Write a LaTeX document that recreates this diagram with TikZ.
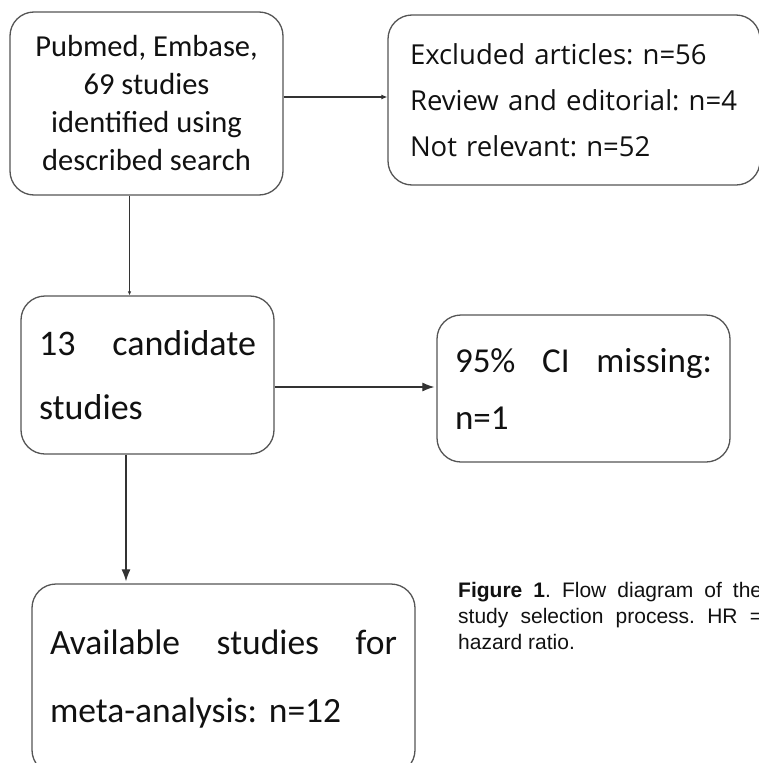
\documentclass[tikz,border=0pt]{standalone}
\usepackage{fontspec}
\usetikzlibrary{arrows.meta,calc}
\newfontfamily\boxfont{Carlito}
\newfontfamily\exclfont{Open Sans}
\newfontfamily\capfont{Liberation Sans}
\setlength{\parindent}{0pt}
\frenchspacing
\definecolor{boxgray}{HTML}{555555}
\definecolor{linegray}{HTML}{333333}
\definecolor{txt}{HTML}{111111}
\tikzset{
  box/.style={draw=boxgray, line width=1.3pt, rounded corners=24pt, inner sep=0pt, text=txt},
  conn/.style={draw=linegray, line width=1.1pt},
  smalltip/.style={-{Latex[length=6pt,width=5pt]}},
  bigtip/.style={-{Latex[length=12pt,width=9pt]}},
}
\begin{document}
\begin{tikzpicture}[x=1pt,y=-1pt]
\useasboundingbox (0,0) rectangle (758,763);
\fill[white] (0,0) rectangle (758,763);

\node[box, minimum width=273pt, minimum height=183pt, align=center,
      font=\boxfont\fontsize{30.5}{38}\selectfont] (search) at (146.5,103.5)
  {Pubmed, Embase,\\69 studies\\identified using\\described search};

\node[box, minimum width=372pt, minimum height=170pt, text width=328pt, align=left,
      font=\exclfont\fontsize{27.5}{46}\selectfont] (excl) at (574,100)
  {Excluded articles: n=56\\Review and editorial: n=4\\Not relevant: n=52};

\node[box, minimum width=253pt, minimum height=158pt, text width=217pt, align=left,
      font=\boxfont\fontsize{36}{64}\selectfont] (cand) at (147.5,375)
  {13\hfill candidate\\studies};

\node[box, minimum width=293pt, minimum height=147pt, text width=257pt, align=left,
      font=\boxfont\fontsize{35}{57}\selectfont] (miss) at (583.5,388.5)
  {95\%\hfill CI\hfill missing:\\n=1};

\node[box, minimum width=383pt, minimum height=190pt, text width=347pt, align=left,
      font=\boxfont\fontsize{35.5}{68}\selectfont] (avail) at (223.5,679)
  {Available\hfill studies\hfill for\\meta-analysis: n=12};

\node[anchor=base west, inner sep=0pt, align=left, text=txt,
      font=\capfont\fontsize{21}{26}\selectfont] (cap) at (458,649)
  {\makebox[304pt][s]{\textbf{Figure 1}. Flow diagram of the}\\
   \makebox[304pt][s]{study selection process. HR =}\\
   hazard ratio.};

\draw[conn, smalltip] ([yshift=3pt]search.east |- excl.west) -- ([yshift=3pt]excl.west);
\draw[conn, -{Latex[length=4pt,width=3.5pt]}] ([xshift=-17pt]search.south) -- ([xshift=-17pt]search.south |- cand.north);
\draw[conn, bigtip, shorten >=2pt] ([yshift=-12pt]cand.east) -- ([yshift=-12pt]cand.east -| miss.west);
\draw[conn, bigtip, shorten >=2pt] ([xshift=-21.5pt]cand.south) -- ([xshift=-21.5pt]cand.south |- avail.north);
\end{tikzpicture}
\end{document}
